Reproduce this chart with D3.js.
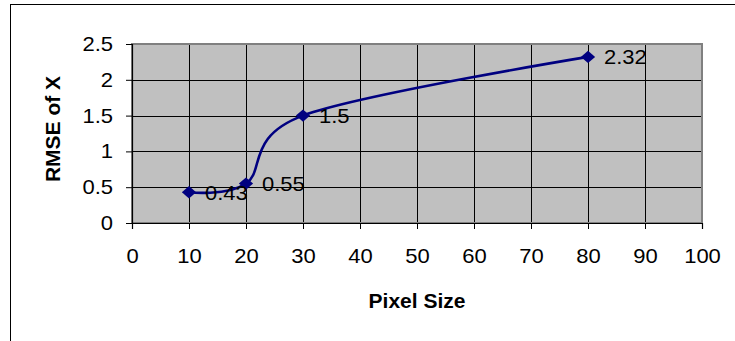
<!DOCTYPE html>
<html>
<head>
<meta charset="utf-8">
<script src="https://cdn.jsdelivr.net/npm/d3@7"></script>
<style>
  html, body { margin: 0; padding: 0; background: #fff; }
  svg { display: block; }
  text { font-family: "Liberation Sans", Arial, sans-serif; }
</style>
</head>
<body>
<svg id="chart" width="735" height="341"></svg>
<script>
// Pixel size vs. RMSE of X
const pixelSizes = [10, 20, 30, 80];
const rmseValues = [0.43, 0.55, 1.5, 2.32];
const pointLabels = ["0.43", "0.55", "1.5", "2.32"];
const xTickValues = [0, 10, 20, 30, 40, 50, 60, 70, 80, 90, 100];
const yTickValues = [0, 0.5, 1, 1.5, 2, 2.5];
const xTitle = "Pixel Size";
const yTitle = "RMSE of X";

const svg = d3.select("#chart");
const plot = { left: 132, right: 702, top: 44, bottom: 223 };
const labelFont = "20px";
const stretch = 1.1; // horizontal widening of the numeric labels

const x = d3.scaleLinear().domain([0, 100]).range([plot.left, plot.right]);
const y = d3.scaleLinear().domain([0, 2.5]).range([plot.bottom, plot.top]);

// outer chart frame (continues past the right and bottom edges)
svg.append("rect")
  .attr("x", 10.5).attr("y", 4.5)
  .attr("width", 800).attr("height", 400)
  .attr("fill", "none").attr("stroke", "#000").attr("stroke-width", 1);

// plot background
svg.append("rect")
  .attr("x", plot.left).attr("y", plot.top)
  .attr("width", plot.right - plot.left).attr("height", plot.bottom - plot.top)
  .attr("fill", "#c0c0c0");

// gridlines
const grid = svg.append("g");
grid.selectAll("line.gx").data(xTickValues.filter(d => d > 0 && d < 100)).join("line")
  .attr("x1", d => Math.round(x(d)) + 0.5).attr("x2", d => Math.round(x(d)) + 0.5)
  .attr("y1", plot.top).attr("y2", plot.bottom)
  .attr("stroke", "#000").attr("stroke-width", 1);
grid.selectAll("line.gy").data(yTickValues.filter(d => d > 0 && d < 2.5)).join("line")
  .attr("x1", plot.left).attr("x2", plot.right)
  .attr("y1", d => Math.round(y(d)) + 0.5).attr("y2", d => Math.round(y(d)) + 0.5)
  .attr("stroke", "#000").attr("stroke-width", 1);

// plot border
svg.append("rect")
  .attr("x", plot.left).attr("y", plot.top)
  .attr("width", plot.right - plot.left).attr("height", plot.bottom - plot.top)
  .attr("fill", "none").attr("stroke", "#808080").attr("stroke-width", 2);

// axes
const xAxis = d3.axisBottom(x).tickValues(xTickValues).tickSize(6).tickPadding(20)
  .tickFormat(d3.format("d"));
const yAxis = d3.axisLeft(y).tickValues(yTickValues).tickSize(6).tickPadding(13)
  .tickFormat(d => String(d));

const gx = svg.append("g").attr("transform", `translate(0,${plot.bottom})`).call(xAxis);
const gy = svg.append("g").attr("transform", `translate(${plot.left},0)`).call(yAxis);
[gx, gy].forEach(g => {
  g.select(".domain").attr("stroke", "#000").attr("stroke-width", 1.2);
  g.selectAll(".tick line").attr("stroke", "#000");
  g.selectAll(".tick text")
    .attr("fill", "#000")
    .style("font-family", "'Liberation Sans', Arial, sans-serif")
    .style("font-size", labelFont);
});
gx.selectAll(".tick text").attr("transform", `scale(${stretch},1)`);
gy.selectAll(".tick text").each(function () {
  const t = d3.select(this);
  const tx = +t.attr("x");
  t.attr("x", tx / stretch).attr("transform", `scale(${stretch},1)`);
});

// axis titles
svg.append("text")
  .attr("x", (plot.left + plot.right) / 2).attr("y", 308)
  .attr("text-anchor", "middle")
  .style("font-size", "21px").style("font-weight", "bold")
  .text(xTitle);
svg.append("text")
  .attr("transform", `translate(60,129) rotate(-90)`)
  .attr("text-anchor", "middle")
  .style("font-size", "21px").style("font-weight", "bold")
  .text(yTitle);

// smoothed line
const pts = pixelSizes.map((p, i) => [p, rmseValues[i]]);
const line = d3.line()
  .x(d => x(d[0])).y(d => y(d[1]))
  .curve(d3.curveCardinal.tension(0));
svg.append("path")
  .attr("d", line(pts))
  .attr("fill", "none").attr("stroke", "#000080").attr("stroke-width", 2.6);

// diamond markers
const diamond = d3.symbol().type(d3.symbolDiamond2).size(130);
svg.selectAll("path.marker").data(pts).join("path")
  .attr("class", "marker")
  .attr("d", diamond)
  .attr("transform", d => `translate(${x(d[0])},${y(d[1])}) scale(1,0.87)`)
  .attr("fill", "#000080");

// value labels
svg.selectAll("text.val").data(pts).join("text")
  .attr("class", "val")
  .attr("transform", d => `translate(${x(d[0]) + 16},${y(d[1]) + 7.5}) scale(${stretch},1)`)
  .style("font-size", labelFont)
  .attr("fill", "#000")
  .text((d, i) => pointLabels[i]);
</script>
</body>
</html>
